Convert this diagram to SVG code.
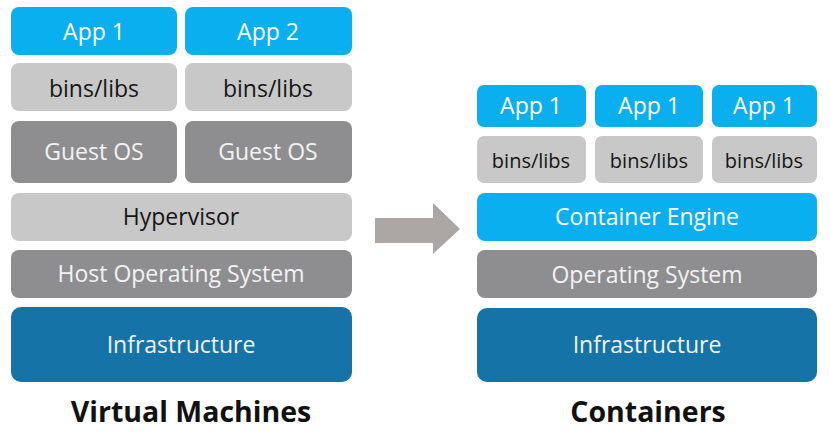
<svg xmlns="http://www.w3.org/2000/svg" width="831" height="437" viewBox="0 0 831 437">
<style>
.t{font-family:"Open Sans","Liberation Sans",sans-serif;font-size:23px;text-anchor:middle}
.blue{fill:#0aaff0}
.lg{fill:#c8c8c8}
.dg{fill:#8e8e91}
.inf{fill:#1673a8}
.w{fill:#ffffff}
.wl{fill:#f2f2f2}
.k{fill:#161616}
.title{font-family:"Open Sans","Liberation Sans",sans-serif;font-size:28.5px;font-weight:bold;text-anchor:middle;fill:#111}
</style>
<rect width="831" height="437" fill="#ffffff"/>
<g id="vm-app1"><rect class="blue" x="11" y="7" width="166" height="48" rx="8"/><text class="t w" x="94" y="40">App 1</text></g>
<g id="vm-app2"><rect class="blue" x="185" y="7" width="167" height="48" rx="8"/><text class="t w" x="268" y="40">App 2</text></g>
<g id="vm-bins1"><rect class="lg" x="11" y="63" width="166" height="48" rx="8"/><text class="t k" x="94" y="97">bins/libs</text></g>
<g id="vm-bins2"><rect class="lg" x="185" y="63" width="167" height="48" rx="8"/><text class="t k" x="268" y="97">bins/libs</text></g>
<g id="vm-guest1"><rect class="dg" x="11" y="121" width="166" height="62" rx="8"/><text class="t wl" x="94" y="160">Guest OS</text></g>
<g id="vm-guest2"><rect class="dg" x="185" y="121" width="167" height="62" rx="8"/><text class="t wl" x="268" y="160">Guest OS</text></g>
<g id="vm-hypervisor"><rect class="lg" x="11" y="193" width="341" height="48" rx="8"/><text class="t k" x="181" y="225">Hypervisor</text></g>
<g id="vm-hostos"><rect class="dg" x="11" y="250" width="341" height="48" rx="8"/><text class="t wl" x="181" y="282">Host Operating System</text></g>
<g id="vm-infra"><rect class="inf" x="11" y="307" width="341" height="75" rx="10"/><text class="t wl" x="181" y="353">Infrastructure</text></g>
<text class="title" x="191" y="422">Virtual Machines</text>

<g id="connectors">
<polygon points="375,218 433,218 433,203 460,229 433,254 433,243 375,243" fill="#aca7a5"/>
</g>

<g id="c-app1"><rect class="blue" x="477" y="85" width="109" height="42" rx="7"/><text class="t w" x="531" y="114">App 1</text></g>
<g id="c-app2"><rect class="blue" x="595" y="85" width="108" height="42" rx="7"/><text class="t w" x="649" y="114">App 1</text></g>
<g id="c-app3"><rect class="blue" x="712" y="85" width="105" height="42" rx="7"/><text class="t w" x="764" y="114">App 1</text></g>
<g id="c-bins1"><rect class="lg" x="477" y="136" width="109" height="47" rx="7"/><text class="t k" x="531" y="168" style="font-size:20px">bins/libs</text></g>
<g id="c-bins2"><rect class="lg" x="595" y="136" width="108" height="47" rx="7"/><text class="t k" x="649" y="168" style="font-size:20px">bins/libs</text></g>
<g id="c-bins3"><rect class="lg" x="712" y="136" width="105" height="47" rx="7"/><text class="t k" x="764" y="168" style="font-size:20px">bins/libs</text></g>
<g id="c-engine"><rect class="blue" x="477" y="193" width="340" height="48" rx="8"/><text class="t w" x="647" y="225">Container Engine</text></g>
<g id="c-os"><rect class="dg" x="477" y="250" width="340" height="48" rx="8"/><text class="t wl" x="647" y="283">Operating System</text></g>
<g id="c-infra"><rect class="inf" x="477" y="308" width="340" height="74" rx="10"/><text class="t wl" x="647" y="353">Infrastructure</text></g>
<text class="title" x="648" y="422">Containers</text>
</svg>
